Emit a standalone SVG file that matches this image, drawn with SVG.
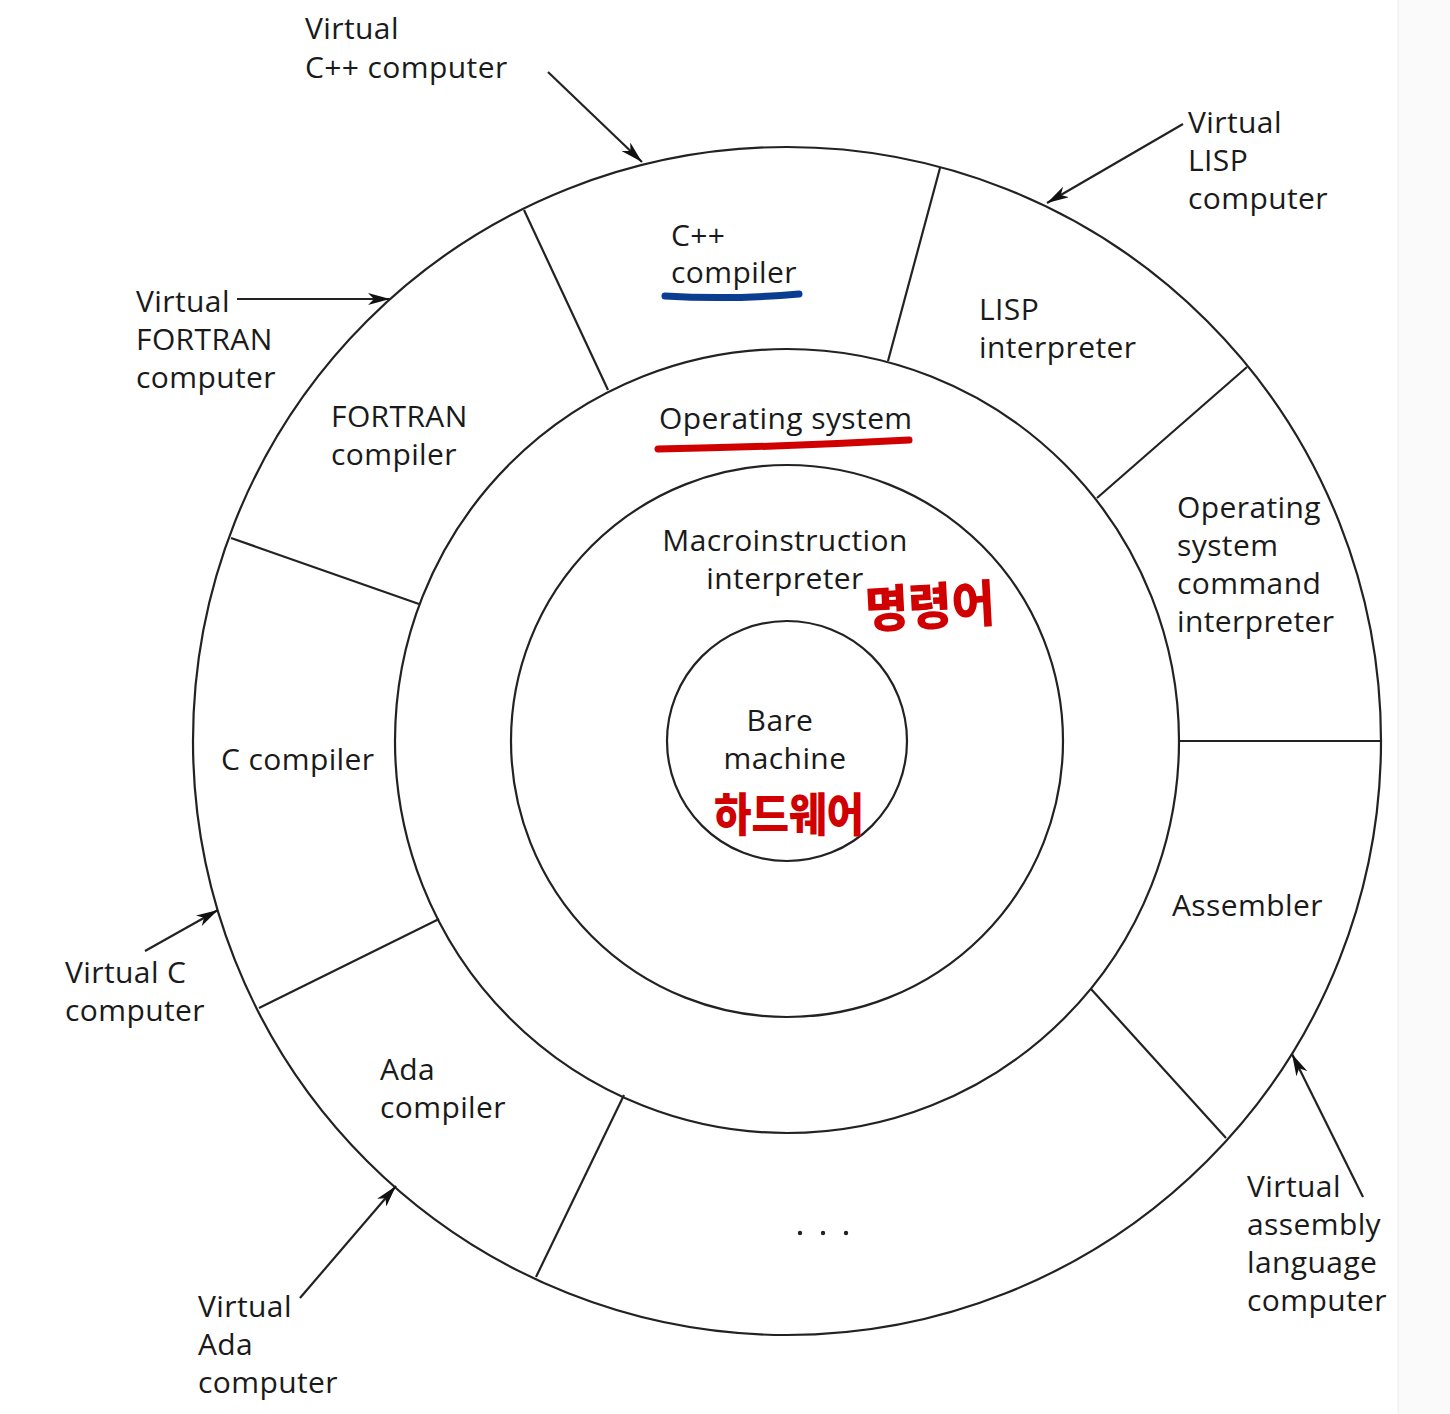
<svg xmlns="http://www.w3.org/2000/svg" width="1450" height="1414" viewBox="0 0 1450 1414">
<style>
.ln{fill:none;stroke:#222;stroke-width:2.2}
.t{font-family:"Open Sans","Noto Sans",sans-serif;font-size:30px;letter-spacing:0.4px;fill:#1a1a1a}
.m{text-anchor:middle}
.k{font-family:"Noto Sans CJK KR",sans-serif;font-weight:900;fill:#d00000}
</style>
<defs>
<marker id="ah" viewBox="0 0 22 12" refX="22" refY="6" markerWidth="22" markerHeight="12" markerUnits="userSpaceOnUse" orient="auto">
<path d="M0,0 L22,6 L0,12 L6,6 Z" fill="#111"/>
</marker>
</defs>
<rect width="1450" height="1414" fill="#ffffff"/>
<rect x="1398" y="0" width="52" height="1414" fill="#fafafa"/>
<line x1="1398" y1="0" x2="1398" y2="1414" stroke="#ececec" stroke-width="1"/>
<g id="rings">
<circle class="ln" cx="787" cy="741" r="594"/>
<circle class="ln" cx="787" cy="741" r="392"/>
<circle class="ln" cx="787" cy="741" r="276"/>
<circle class="ln" cx="787" cy="741" r="120"/>
</g>
<g id="dividers">
<line class="ln" x1="608" y1="390" x2="524" y2="210"/>
<line class="ln" x1="888" y1="361" x2="940" y2="168"/>
<line class="ln" x1="1097" y1="498" x2="1247" y2="367"/>
<line class="ln" x1="1179" y1="741" x2="1381" y2="741"/>
<line class="ln" x1="1091" y1="989" x2="1226" y2="1138"/>
<line class="ln" x1="624" y1="1095" x2="536" y2="1277"/>
<line class="ln" x1="439" y1="919" x2="259" y2="1008"/>
<line class="ln" x1="419" y1="604" x2="231" y2="538"/>
</g>
<g id="connectors">
<line class="ln" x1="548" y1="72" x2="642" y2="162" marker-end="url(#ah)"/>
<line class="ln" x1="1183" y1="124" x2="1047" y2="203" marker-end="url(#ah)"/>
<line class="ln" x1="237" y1="299" x2="390" y2="299" marker-end="url(#ah)"/>
<line class="ln" x1="145" y1="951" x2="218" y2="910" marker-end="url(#ah)"/>
<line class="ln" x1="300" y1="1298" x2="396" y2="1186" marker-end="url(#ah)"/>
<line class="ln" x1="1363" y1="1197" x2="1292" y2="1054" marker-end="url(#ah)"/>
</g>
<g id="cpp">
<text class="t" x="671" y="246">C++</text>
<text class="t" x="671" y="283">compiler</text>
<path d="M665,296 Q730,300 799,294" fill="none" stroke="#0b3d91" stroke-width="7" stroke-linecap="round"/>
</g>
<g id="lisp"><text class="t" x="979" y="320">LISP</text><text class="t" x="979" y="358">interpreter</text></g>
<g id="fortran"><text class="t" x="331" y="427">FORTRAN</text><text class="t" x="331" y="465">compiler</text></g>
<g id="os">
<text class="t" x="659" y="429">Operating system</text>
<path d="M658,449 Q780,447 909,440" fill="none" stroke="#d00000" stroke-width="7" stroke-linecap="round"/>
</g>
<g id="macro">
<text class="t m" x="785" y="551">Macroinstruction</text>
<text class="t m" x="785" y="589">interpreter</text>
<text class="k" font-size="42" textLength="130" lengthAdjust="spacingAndGlyphs" transform="translate(866,628) rotate(-3) scale(1,1.2)">명령어</text>
</g>
<g id="oscmd"><text class="t" x="1177" y="518">Operating</text><text class="t" x="1177" y="556">system</text><text class="t" x="1177" y="594">command</text><text class="t" x="1177" y="632">interpreter</text></g>
<g id="bare">
<text class="t m" x="780" y="731">Bare</text>
<text class="t m" x="785" y="769">machine</text>
<text class="k" font-size="40" textLength="150" lengthAdjust="spacingAndGlyphs" transform="translate(714,831) scale(1,1.15)">하드웨어</text>
</g>
<g id="c"><text class="t" x="221" y="770">C compiler</text></g>
<g id="asm"><text class="t" x="1172" y="916">Assembler</text></g>
<g id="ada"><text class="t" x="380" y="1080">Ada</text><text class="t" x="380" y="1118">compiler</text></g>
<g id="dots"><circle cx="800" cy="1233" r="2.2" fill="#222"/><circle cx="823" cy="1233" r="2.2" fill="#222"/><circle cx="846" cy="1233" r="2.2" fill="#222"/></g>
<g id="vcpp"><text class="t" x="305" y="39">Virtual</text><text class="t" x="305" y="78">C++ computer</text></g>
<g id="vlisp"><text class="t" x="1188" y="133">Virtual</text><text class="t" x="1188" y="171">LISP</text><text class="t" x="1188" y="209">computer</text></g>
<g id="vfortran"><text class="t" x="136" y="312">Virtual</text><text class="t" x="136" y="350">FORTRAN</text><text class="t" x="136" y="388">computer</text></g>
<g id="vc"><text class="t" x="65" y="983">Virtual C</text><text class="t" x="65" y="1021">computer</text></g>
<g id="vada"><text class="t" x="198" y="1317">Virtual</text><text class="t" x="198" y="1355">Ada</text><text class="t" x="198" y="1393">computer</text></g>
<g id="vasm"><text class="t" x="1247" y="1197">Virtual</text><text class="t" x="1247" y="1235">assembly</text><text class="t" x="1247" y="1273">language</text><text class="t" x="1247" y="1311">computer</text></g>
</svg>
